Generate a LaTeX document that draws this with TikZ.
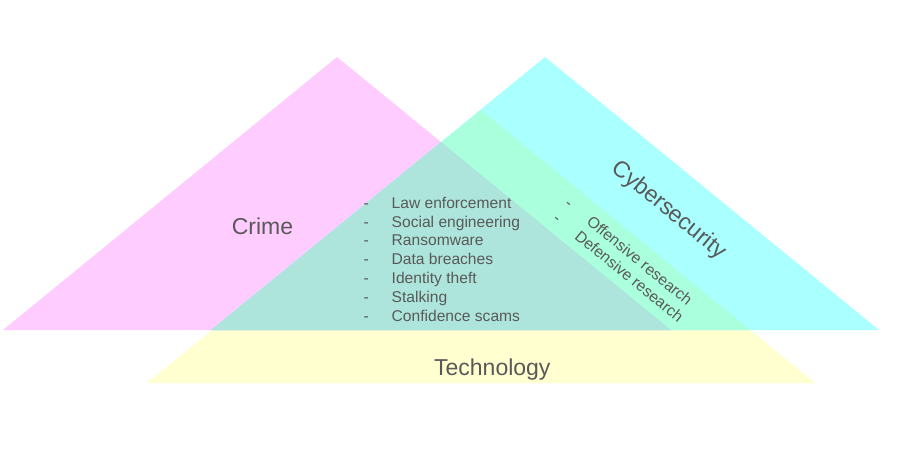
\documentclass[tikz,border=0pt]{standalone}
\usepackage{fontspec}
\setmainfont{Liberation Sans}
\definecolor{crimefill}{HTML}{FFCCFF}
\definecolor{cyberfill}{HTML}{AAFFFF}
\definecolor{techfill}{HTML}{FFFFCF}
\definecolor{cybertech}{HTML}{AAFFDD}
\definecolor{allthree}{HTML}{ADE5DC}
\definecolor{labelgray}{HTML}{595959}
\begin{document}
\begin{tikzpicture}[x=1pt,y=-1pt,
  biglabel/.style={text=labelgray, inner sep=0pt, anchor=base,
    font=\fontsize{23}{27}\selectfont},
  itemlist/.style={text=labelgray, inner sep=0pt, anchor=base west,
    font=\fontsize{15.6}{18.8}\selectfont}]
\useasboundingbox (0,0) rectangle (908,467);

% corners of the three congruent triangles
\coordinate (crimeL) at (3,330);
\coordinate (crimeT) at (337,57);
\coordinate (crimeR) at (671,330);
\coordinate (cyberL) at (211,330);
\coordinate (cyberT) at (545,57);
\coordinate (cyberR) at (879,330);
\coordinate (techL) at (147,383);
\coordinate (techT) at (481,110);
\coordinate (techR) at (815,383);

% plain areas
\fill[techfill] (techL) -- (techT) -- (techR) -- cycle;
\fill[crimefill] (crimeL) -- (crimeT) -- (crimeR) -- cycle;
\fill[cyberfill] (cyberL) -- (cyberT) -- (cyberR) -- cycle;

% cybersecurity and technology overlap
\begin{scope}
  \clip (cyberL) -- (cyberT) -- (cyberR) -- cycle;
  \fill[cybertech] (techL) -- (techT) -- (techR) -- cycle;
\end{scope}

% overlap of all three
\begin{scope}
  \clip (crimeL) -- (crimeT) -- (crimeR) -- cycle;
  \fill[allthree] (cyberL) -- (cyberT) -- (cyberR) -- cycle;
\end{scope}

% labels
\node[biglabel] (crime) at (262.5,234) {Crime};
\node[biglabel] (technology) at (492.3,375) {Technology};
\node[biglabel, rotate=-39.3] (cybersecurity) at (665,215) {Cybersecurity};

\node[itemlist] (overlaplist) at (363.3,208.3) {%
  \begin{tabular}[t]{@{}l@{\hspace{23pt}}l@{}}
    - & Law enforcement\\
    - & Social engineering\\
    - & Ransomware\\
    - & Data breaches\\
    - & Identity theft\\
    - & Stalking\\
    - & Confidence scams
  \end{tabular}};

\node[itemlist, rotate=-39.3] (researchlist) at (563.8,205.5) {%
  \begin{tabular}[t]{@{}l@{\hspace{23pt}}l@{}}
    - & Offensive research\\
    - & Defensive research
  \end{tabular}};
\end{tikzpicture}
\end{document}
